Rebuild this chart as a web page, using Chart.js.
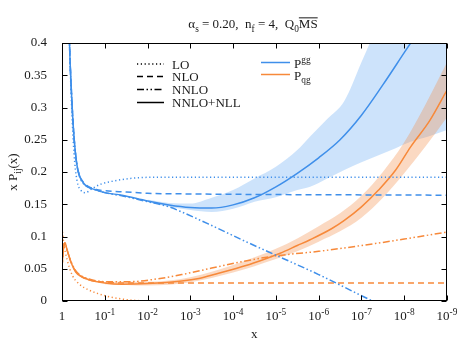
<!DOCTYPE html>
<html>
<head>
<meta charset="utf-8">
<script src="https://cdn.jsdelivr.net/npm/chart.js@4.4.1/dist/chart.umd.min.js"></script>
<style>
  html, body { margin: 0; padding: 0; background: #fff; }
  canvas { display: block; }
</style>
</head>
<body>
<canvas id="chart" width="465" height="344"></canvas>
<script>
const FONT = '"Liberation Serif", "DejaVu Serif", serif';
const TEXT = '#1a1a1a';
const BLUE = '#3f8fea';
const ORANGE = '#f7893a';

// x axis runs in decades: d = -log10(x), so 1 is at d=0 and 10^-9 at d=9
const xTickDecades = [0, 1, 2, 3, 4, 5, 6, 7, 8, 9];
const yTickValues = [0, 0.05, 0.1, 0.15, 0.2, 0.25, 0.3, 0.35, 0.4];

// P_gg
const ggLOx   = [0.14, 0.175, 0.22, 0.28, 0.35, 0.45, 0.55, 0.7, 0.9, 1.2, 1.6, 2.2, 3, 9];
const ggLOy   = [0.5, 0.4, 0.31, 0.23, 0.187, 0.171, 0.168, 0.174, 0.181, 0.186, 0.19, 0.192, 0.192, 0.192];
const ggNLOx  = [0.14, 0.175, 0.22, 0.28, 0.34, 0.4, 0.5, 0.6, 0.8, 1, 1.5, 2, 3, 9];
const ggNLOy  = [0.5, 0.4, 0.325, 0.255, 0.215, 0.196, 0.184, 0.178, 0.173, 0.171, 0.169, 0.167, 0.166, 0.164];
const ggNNLOx = [0.14, 0.175, 0.22, 0.28, 0.34, 0.4, 0.5, 0.6, 0.75, 1, 1.4, 2, 2.5, 2.8, 3.5, 4.3, 5.1, 6, 7.26, 7.6];
const ggNNLOy = [0.5, 0.4, 0.325, 0.255, 0.215, 0.195, 0.182, 0.177, 0.173, 0.168, 0.163, 0.154, 0.146, 0.138, 0.117, 0.092, 0.068, 0.041, 0, -0.01];
const ggNLLx  = [0.14, 0.175, 0.22, 0.28, 0.34, 0.4, 0.5, 0.6, 0.75, 1, 1.4, 2, 2.5, 3, 3.5, 4, 4.5, 5, 5.5, 6, 6.5, 7, 7.5, 8, 8.3];
const ggNLLy  = [0.5, 0.4, 0.325, 0.255, 0.215, 0.196, 0.183, 0.177, 0.173, 0.168, 0.164, 0.155, 0.149, 0.145, 0.144, 0.149, 0.16, 0.177, 0.198, 0.222, 0.25, 0.288, 0.335, 0.385, 0.415];
const ggBandX = [2, 2.5, 3, 3.5, 4, 4.5, 5, 5.5, 5.8, 6.2, 6.6, 7, 7.4, 7.8, 8.15, 8.6, 9];
const ggBandHi = [0.157, 0.152, 0.151, 0.16, 0.172, 0.19, 0.208, 0.234, 0.255, 0.282, 0.31, 0.37, 0.43, 0.48, 0.53, 0.6, 0.67];
const ggBandLo = [0.153, 0.146, 0.141, 0.138, 0.143, 0.154, 0.161, 0.172, 0.177, 0.19, 0.203, 0.215, 0.226, 0.237, 0.247, 0.256, 0.265];

// P_qg
const qgLOx   = [0, 0.04, 0.12, 0.24, 0.39, 0.63, 1.02, 1.41, 1.8, 2.2, 9];
const qgLOy   = [0.113, 0.09, 0.064, 0.04, 0.027, 0.017, 0.008, 0.003, 0.0005, 0, 0];
const qgNLOx  = [0, 0.035, 0.07, 0.12, 0.2, 0.32, 0.45, 0.63, 1, 1.4, 2, 3, 9];
const qgNLOy  = [0.053, 0.082, 0.09, 0.079, 0.062, 0.046, 0.038, 0.033, 0.029, 0.028, 0.028, 0.028, 0.028];
const qgNNLOx = [0, 0.035, 0.07, 0.12, 0.2, 0.32, 0.45, 0.63, 1, 1.6, 2.2, 2.8, 3.5, 4.2, 5, 6, 7, 8, 9];
const qgNNLOy = [0.053, 0.082, 0.09, 0.079, 0.063, 0.047, 0.039, 0.034, 0.03, 0.03, 0.034, 0.041, 0.051, 0.061, 0.07, 0.077, 0.086, 0.096, 0.107];
const qgNLLx  = [0, 0.035, 0.07, 0.12, 0.2, 0.32, 0.45, 0.63, 1, 1.4, 2, 2.8, 3.2, 3.6, 4.3, 4.7, 5.1, 5.5, 5.8, 6.3, 6.6, 7, 7.4, 7.8, 8.15, 8.6, 9];
const qgNLLy  = [0.053, 0.082, 0.09, 0.079, 0.062, 0.045, 0.038, 0.033, 0.028, 0.026, 0.027, 0.031, 0.035, 0.042, 0.055, 0.064, 0.074, 0.086, 0.095, 0.112, 0.125, 0.146, 0.172, 0.203, 0.239, 0.28, 0.327];
const qgBandX  = [1, 2, 3, 4, 5, 5.5, 6, 6.5, 7, 7.5, 8, 8.5, 9];
const qgBandHi = [0.03, 0.03, 0.037, 0.056, 0.081, 0.097, 0.116, 0.136, 0.163, 0.2, 0.246, 0.305, 0.37];
const qgBandLo = [0.026, 0.024, 0.029, 0.044, 0.065, 0.077, 0.092, 0.108, 0.129, 0.16, 0.198, 0.24, 0.285];

const pts = (xs, ys) => xs.map((x, i) => ({ x, y: ys[i] }));

const DOT = [1.2, 2.6];
const DASH = [6, 4];
const DASHDOT = [7, 2.5, 1.5, 2.5, 1.5, 2.5];

function line(xs, ys, color, dash, order) {
    return {
        data: pts(xs, ys),
        borderColor: color,
        borderWidth: 1.5,
        borderDash: dash,
        pointRadius: 0,
        fill: false,
        cubicInterpolationMode: 'monotone',
        order: order
    };
}

function band(xs, ys, color, fill, order) {
    return {
        data: pts(xs, ys),
        borderWidth: 0,
        borderColor: 'transparent',
        backgroundColor: color,
        pointRadius: 0,
        fill: fill,
        cubicInterpolationMode: 'monotone',
        order: order
    };
}

// draw text with sub/superscripts, returns width
function richText(ctx, parts, x, y, size, measureOnly) {
    let cx = x;
    parts.forEach(p => {
        const fs = p.sub || p.sup ? size * 0.72 : size;
        ctx.font = fs + 'px ' + FONT;
        const dy = p.sub ? size * 0.28 : (p.sup ? -size * 0.36 : 0);
        const w = ctx.measureText(p.t).width;
        if (!measureOnly) {
            ctx.fillText(p.t, cx, y + dy);
            if (p.over) {
                ctx.fillRect(cx, y - size * 0.82, w, 1);
            }
        }
        cx += w;
    });
    return cx - x;
}

const decor = {
    id: 'decor',
    afterDraw(chart) {
        const { ctx, chartArea: a, scales: { x, y } } = chart;
        ctx.save();
        ctx.strokeStyle = '#000';
        ctx.lineWidth = 1;
        const L = Math.round(a.left) + 0.5, R = Math.round(a.right) - 0.5;
        const T = Math.round(a.top) + 0.5, B = Math.round(a.bottom) - 0.5;
        ctx.strokeRect(L, T, R - L, B - T);

        ctx.beginPath();
        xTickDecades.forEach(d => {
            const px = Math.round(x.getPixelForValue(d)) + 0.5;
            ctx.moveTo(px, B); ctx.lineTo(px, B - 5);
            ctx.moveTo(px, T); ctx.lineTo(px, T + 5);
        });
        yTickValues.forEach(v => {
            const py = Math.round(y.getPixelForValue(v)) + 0.5;
            ctx.moveTo(L, py); ctx.lineTo(L + 5, py);
            ctx.moveTo(R, py); ctx.lineTo(R - 5, py);
        });
        ctx.stroke();

        ctx.fillStyle = TEXT;
        ctx.textBaseline = 'alphabetic';
        ctx.textAlign = 'left';

        // x tick labels
        xTickDecades.forEach(d => {
            const px = x.getPixelForValue(d);
            const parts = d === 0 ? [{ t: '1' }] : [{ t: '10' }, { t: '-' + d, sup: true }];
            const w = richText(ctx, parts, 0, 0, 13, true);
            richText(ctx, parts, px - w / 2, 320, 13);
        });

        // axis titles
        ctx.font = '13px ' + FONT;
        ctx.fillText('x', 251, 338);

        const yt = [{ t: 'x P' }, { t: 'ij', sub: true }, { t: '(x)' }];
        ctx.save();
        ctx.translate(17, 172);
        ctx.rotate(-Math.PI / 2);
        const wy = richText(ctx, yt, 0, 0, 13, true);
        richText(ctx, yt, -wy / 2, 0, 13);
        ctx.restore();

        // title
        const title = [
            { t: '\u03b1' }, { t: 's', sub: true }, { t: ' = 0.20,  n' }, { t: 'f', sub: true },
            { t: ' = 4,  Q' }, { t: '0', sub: true }, { t: 'MS', over: true }
        ];
        const tw = richText(ctx, title, 0, 0, 13, true);
        richText(ctx, title, 253 - tw / 2, 28, 13);

        // legend
        const rows = [
            { label: 'LO', dash: DOT, y: 64 },
            { label: 'NLO', dash: DASH, y: 76.5 },
            { label: 'NNLO', dash: DASHDOT, y: 89.5 },
            { label: 'NNLO+NLL', dash: [], y: 102.5 }
        ];
        ctx.lineWidth = 1.5;
        rows.forEach(r => {
            ctx.strokeStyle = '#000';
            ctx.setLineDash(r.dash);
            ctx.beginPath();
            ctx.moveTo(137, r.y); ctx.lineTo(164, r.y);
            ctx.stroke();
            ctx.setLineDash([]);
            ctx.font = '13px ' + FONT;
            ctx.fillText(r.label, 172, r.y + 4.5);
        });
        const series = [
            { color: BLUE, parts: [{ t: 'P' }, { t: 'gg', sup: true }], y: 62.5, base: 67.5 },
            { color: ORANGE, parts: [{ t: 'P' }, { t: 'qg', sub: true }], y: 74.5, base: 79.5 }
        ];
        series.forEach(s => {
            ctx.strokeStyle = s.color;
            ctx.beginPath();
            ctx.moveTo(261, s.y); ctx.lineTo(290, s.y);
            ctx.stroke();
            richText(ctx, s.parts, 294, s.base, 13);
        });
        ctx.restore();
    }
};

new Chart(document.getElementById('chart'), {
    type: 'line',
    data: {
        datasets: [
            band(ggBandX, ggBandHi, 'rgba(135,188,245,0.42)', '+1', 10),
            band(ggBandX, ggBandLo, 'transparent', false, 10),
            band(qgBandX, qgBandHi, 'rgba(242,140,70,0.33)', '+1', 9),
            band(qgBandX, qgBandLo, 'transparent', false, 9),
            line(ggLOx, ggLOy, BLUE, DOT, 1),
            line(ggNLOx, ggNLOy, BLUE, DASH, 1),
            line(ggNNLOx, ggNNLOy, BLUE, DASHDOT, 1),
            line(ggNLLx, ggNLLy, BLUE, [], 1),
            line(qgLOx, qgLOy, ORANGE, DOT, 1),
            line(qgNLOx, qgNLOy, ORANGE, DASH, 1),
            line(qgNNLOx, qgNNLOy, ORANGE, DASHDOT, 1),
            line(qgNLLx, qgNLLy, ORANGE, [], 1)
        ]
    },
    options: {
        responsive: false,
        animation: false,
        devicePixelRatio: 1,
        layout: { padding: { top: 43, right: 18, left: 0, bottom: 0 } },
        plugins: {
            legend: { display: false },
            tooltip: { enabled: false },
            title: { display: false }
        },
        scales: {
            x: {
                type: 'linear',
                min: 0,
                max: 9,
                grid: { display: false },
                border: { display: false },
                ticks: { display: false },
                afterFit: s => { s.height = 43; }
            },
            y: {
                min: 0,
                max: 0.4,
                grid: { display: false },
                border: { display: false },
                ticks: {
                    stepSize: 0.05,
                    padding: 7,
                    color: TEXT,
                    font: { family: FONT, size: 13 },
                    callback: v => String(+v.toFixed(2))
                },
                afterFit: s => { s.width = 62; }
            }
        }
    },
    plugins: [decor]
});
</script>
</body>
</html>
